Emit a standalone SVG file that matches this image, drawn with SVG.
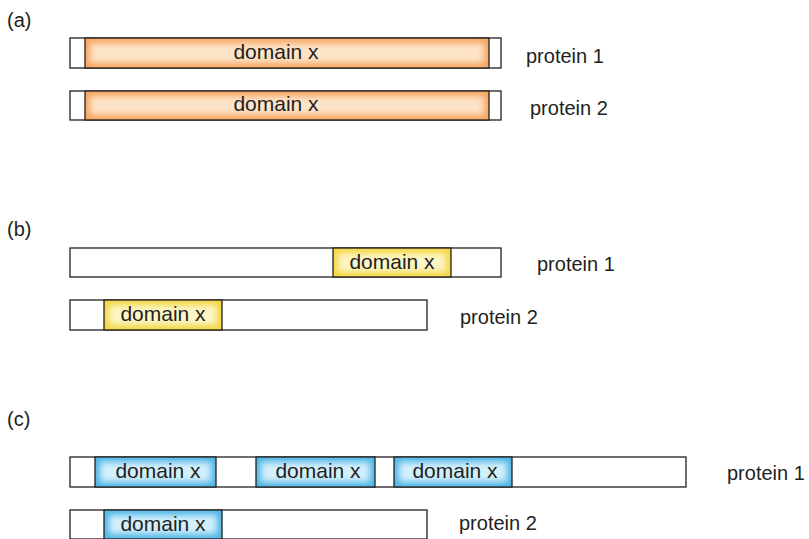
<svg xmlns="http://www.w3.org/2000/svg" width="809" height="539" viewBox="0 0 809 539">
<style>
text{font-family:"Liberation Sans",Arial,sans-serif;font-size:20px;fill:#231f20}
.d{font-size:21px;text-anchor:middle}
.bar{fill:#fff;stroke:#231f20;stroke-width:1.3}
.dom{stroke:#231f20;stroke-width:1.3}
</style>
<defs>
<filter id="blur" x="-10%" y="-50%" width="120%" height="200%"><feGaussianBlur stdDeviation="3"/></filter>
</defs>
<text x="7" y="27">(a)</text>
<text x="7" y="236">(b)</text>
<text x="7" y="426">(c)</text>
<g id="a-protein1">
<rect class="bar" x="70" y="38" width="431" height="30"/>
<rect x="85" y="38" width="404" height="30" fill="#f6a55f"/>
<rect x="90" y="43" width="394" height="20" fill="#fde3c8" filter="url(#blur)"/>
<rect class="dom" x="85" y="38" width="404" height="30" fill="none"/>
<text class="d" x="276" y="59">domain x</text>
<text x="526" y="63">protein 1</text>
</g>
<g id="a-protein2">
<rect class="bar" x="70" y="91" width="431" height="29"/>
<rect x="85" y="91" width="404" height="29" fill="#f6a55f"/>
<rect x="90" y="96" width="394" height="19" fill="#fde3c8" filter="url(#blur)"/>
<rect class="dom" x="85" y="91" width="404" height="29" fill="none"/>
<text class="d" x="276" y="111">domain x</text>
<text x="530" y="115">protein 2</text>
</g>
<g id="b-protein1">
<rect class="bar" x="70" y="248" width="431" height="29"/>
<rect x="333" y="248" width="118" height="29" fill="#f3d541"/>
<rect x="338" y="253" width="108" height="19" fill="#fdf6c6" filter="url(#blur)"/>
<rect class="dom" x="333" y="248" width="118" height="29" fill="none"/>
<text class="d" x="392" y="269">domain x</text>
<text x="537" y="271">protein 1</text>
</g>
<g id="b-protein2">
<rect class="bar" x="70" y="300" width="357" height="30"/>
<rect x="104" y="300" width="118" height="30" fill="#f3d541"/>
<rect x="109" y="305" width="108" height="20" fill="#fdf6c6" filter="url(#blur)"/>
<rect class="dom" x="104" y="300" width="118" height="30" fill="none"/>
<text class="d" x="163" y="321">domain x</text>
<text x="460" y="324">protein 2</text>
</g>
<g id="c-protein1">
<rect class="bar" x="70" y="457" width="616" height="30"/>
<rect x="95" y="457" width="121" height="30" fill="#4fb6e4"/>
<rect x="100" y="462" width="111" height="20" fill="#d2effc" filter="url(#blur)"/>
<rect class="dom" x="95" y="457" width="121" height="30" fill="none"/>
<text class="d" x="158" y="478">domain x</text>
<rect x="256" y="457" width="119" height="30" fill="#4fb6e4"/>
<rect x="261" y="462" width="109" height="20" fill="#d2effc" filter="url(#blur)"/>
<rect class="dom" x="256" y="457" width="119" height="30" fill="none"/>
<text class="d" x="318" y="478">domain x</text>
<rect x="394" y="457" width="118" height="30" fill="#4fb6e4"/>
<rect x="399" y="462" width="108" height="20" fill="#d2effc" filter="url(#blur)"/>
<rect class="dom" x="394" y="457" width="118" height="30" fill="none"/>
<text class="d" x="455" y="478">domain x</text>
<text x="727" y="480">protein 1</text>
</g>
<g id="c-protein2">
<rect class="bar" x="70" y="510" width="357" height="29"/>
<rect x="104" y="510" width="118" height="29" fill="#4fb6e4"/>
<rect x="109" y="515" width="108" height="19" fill="#d2effc" filter="url(#blur)"/>
<rect class="dom" x="104" y="510" width="118" height="29" fill="none"/>
<text class="d" x="163" y="531">domain x</text>
<text x="459" y="530">protein 2</text>
</g>
<g id="connectors"/>
</svg>
